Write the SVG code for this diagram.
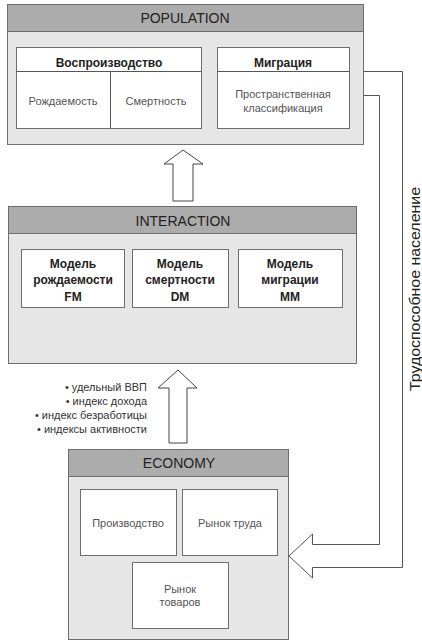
<svg xmlns="http://www.w3.org/2000/svg" width="422" height="641" viewBox="0 0 422 641">
<style>
.outer{fill:#e6e6e6;stroke:#6e6e6e;stroke-width:1}
.hdr{fill:#acacac;stroke:#6e6e6e;stroke-width:1}
.inner{fill:#ffffff;stroke:#6e6e6e;stroke-width:1}
.title{font-family:"Liberation Sans",Arial,sans-serif;font-size:14px;fill:#222;text-anchor:middle}
.bold{font-family:"Liberation Sans",Arial,sans-serif;font-size:12px;font-weight:bold;fill:#222;text-anchor:middle}
.reg{font-family:"Liberation Sans",Arial,sans-serif;font-size:11px;fill:#555;text-anchor:middle}
.bul{font-family:"Liberation Sans",Arial,sans-serif;font-size:11px;fill:#333;text-anchor:end}
.vert{font-family:"Liberation Sans",Arial,sans-serif;font-size:14px;fill:#222;text-anchor:middle}
.arrow{fill:#ffffff;stroke:#444;stroke-width:1}
.conn{fill:none;stroke:#555;stroke-width:1}
</style>
<rect width="422" height="641" fill="#ffffff"/>
<g id="population">
<rect class="outer" x="7.5" y="4.5" width="356" height="140"/>
<rect class="hdr" x="7.5" y="4.5" width="356" height="27"/>
<text class="title" x="185" y="23">POPULATION</text>
<g id="reproduction">
<rect class="inner" x="16.5" y="47.5" width="185" height="81"/>
<line class="conn" x1="16.5" y1="71.5" x2="201.5" y2="71.5"/>
<line class="conn" x1="110.5" y1="71.5" x2="110.5" y2="128.5"/>
<text class="bold" x="109" y="67">Воспроизводство</text>
<text class="reg" x="63" y="105">Рождаемость</text>
<text class="reg" x="156" y="105">Смертность</text>
</g>
<g id="migration">
<rect class="inner" x="217.5" y="47.5" width="132" height="81"/>
<line class="conn" x1="217.5" y1="71.5" x2="349.5" y2="71.5"/>
<text class="bold" x="283" y="67">Миграция</text>
<text class="reg" x="283" y="98">Пространственная</text>
<text class="reg" x="283" y="112">классификация</text>
</g>
</g>
<g id="interaction">
<rect class="outer" x="8.5" y="206.5" width="348" height="157"/>
<rect class="hdr" x="8.5" y="206.5" width="348" height="27"/>
<text class="title" x="183" y="226">INTERACTION</text>
<g id="fm">
<rect class="inner" x="21.5" y="249.5" width="103" height="58"/>
<text class="bold" x="73" y="268">Модель</text>
<text class="bold" x="73" y="284">рождаемости</text>
<text class="bold" x="73" y="301">FM</text>
</g>
<g id="dm">
<rect class="inner" x="132.5" y="249.5" width="96" height="58"/>
<text class="bold" x="180" y="268">Модель</text>
<text class="bold" x="180" y="284">смертности</text>
<text class="bold" x="180" y="301">DM</text>
</g>
<g id="mm">
<rect class="inner" x="238.5" y="249.5" width="104" height="58"/>
<text class="bold" x="290" y="268">Модель</text>
<text class="bold" x="290" y="284">миграции</text>
<text class="bold" x="290" y="301">MM</text>
</g>
</g>
<g id="economy">
<rect class="outer" x="68.5" y="449.5" width="220" height="190"/>
<rect class="hdr" x="68.5" y="449.5" width="220" height="27"/>
<text class="title" x="179" y="468">ECONOMY</text>
<g id="production">
<rect class="inner" x="80.5" y="489.5" width="96" height="66"/>
<text class="reg" x="128" y="527">Производство</text>
</g>
<g id="labour">
<rect class="inner" x="182.5" y="489.5" width="95" height="66"/>
<text class="reg" x="230" y="527">Рынок труда</text>
</g>
<g id="goods">
<rect class="inner" x="132.5" y="562.5" width="96" height="66"/>
<text class="reg" x="180" y="593">Рынок</text>
<text class="reg" x="180" y="606">товаров</text>
</g>
</g>
<g id="connectors">
<path class="arrow" d="M183,150 L203,164 L193,164 L193,201 L173,201 L173,164 L164,164 Z"/>
<path class="arrow" d="M178,370 L197,388 L187,388 L187,443 L169,443 L169,388 L158,388 Z"/>
<path class="conn" d="M364,71.5 H402.5 V567.5 H312.5 V578 L289,556 L312.5,534 V544.5 H379.5 V95.5 H364"/>
<text class="vert" transform="translate(420,289) rotate(-90)" textLength="204" lengthAdjust="spacingAndGlyphs">Трудоспособное население</text>
<text class="bul" x="147" y="391">• удельный ВВП</text>
<text class="bul" x="147" y="405">• индекс дохода</text>
<text class="bul" x="147" y="419">• индекс безработицы</text>
<text class="bul" x="147" y="433">• индексы активности</text>
</g>
</svg>
